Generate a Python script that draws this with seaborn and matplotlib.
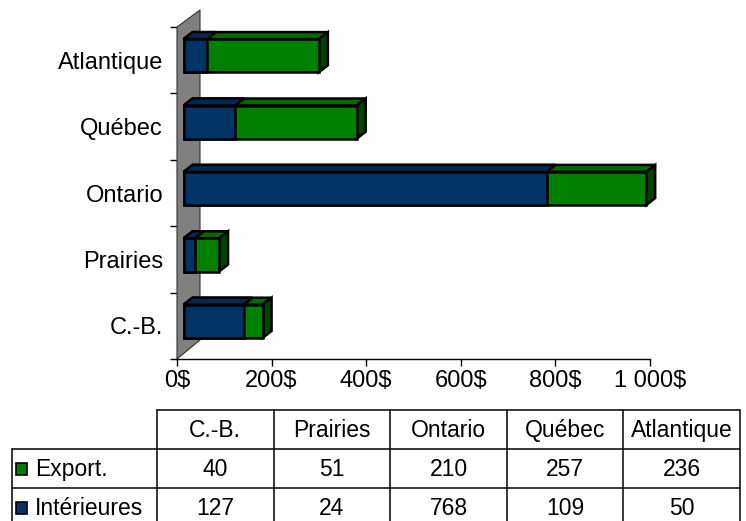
import numpy as np
import pandas as pd
import matplotlib
matplotlib.use("Agg")
import matplotlib.pyplot as plt
import seaborn as sns
from matplotlib.patches import Polygon, Rectangle
from matplotlib.lines import Line2D

# ---------------- data ----------------
regions = ["C.-B.", "Prairies", "Ontario", "Québec", "Atlantique"]
export_vals = [40, 51, 210, 257, 236]
interieures_vals = [127, 24, 768, 109, 50]
series_names = ["Export.", "Intérieures"]
xtick_values = [0, 200, 400, 600, 800, 1000]
xtick_labels = ["0$", "200$", "400$", "600$", "800$", "1 000$"]

# ---------------- style ----------------
BLUE = "#003366"
BLUE_TOP = "#002a55"
GREEN = "#008000"
GREEN_TOP = "#006a00"
GREEN_SIDE = "#004400"
WALL = "#808080"

sns.set_theme(style="white")
plt.rcParams["font.family"] = ["Liberation Sans", "DejaVu Sans"]
plt.rcParams["text.color"] = "black"
plt.rcParams["xtick.color"] = "black"
plt.rcParams["ytick.color"] = "black"
plt.rcParams["xtick.labelcolor"] = "black"
plt.rcParams["ytick.labelcolor"] = "black"

W, H = 746, 521
fig = plt.figure(figsize=(W / 100, H / 100), dpi=100)
fig.patch.set_facecolor("white")

ax_left, ax_right, ax_top, ax_bot = 177, 650, 27, 359
ax = fig.add_axes([ax_left / W, 1 - ax_bot / H, (ax_right - ax_left) / W, (ax_bot - ax_top) / H])
ax.set_facecolor("none")

df = pd.DataFrame({"region": regions, "export": export_vals, "interieures": interieures_vals})
df["total"] = df["export"] + df["interieures"]
order = regions[::-1]

sns.barplot(data=df, x="total", y="region", order=order, orient="h", color=GREEN,
            saturation=1, width=0.5, edgecolor="black", linewidth=1.8,
            errorbar=None, ax=ax, zorder=3)
n_green = len(ax.patches)
sns.barplot(data=df, x="interieures", y="region", order=order, orient="h", color=BLUE,
            saturation=1, width=0.5, edgecolor="black", linewidth=1.8,
            errorbar=None, ax=ax, zorder=3)

ax.set_xlim(0, 1000)
ax.set_ylim(len(order) - 0.5, -0.5)

# pixel -> data conversion for the 3-D depth effect
ax_w_px = ax_right - ax_left
ax_h_px = ax_bot - ax_top
ux = 1000 / ax_w_px
uy = len(order) / ax_h_px
fx, fy = 6.6 * ux, -4.5 * uy     # front face offset
bx, by = 15.6 * ux, -11.5 * uy   # back face offset

patches = list(ax.patches)
green_patches = patches[:n_green]
blue_patches = patches[n_green:]

for p in patches:
    p.set_x(p.get_x() + fx)
    p.set_y(p.get_y() + fy)
    p.set_joinstyle("miter")
    p.set_clip_on(False)

def top_face(p, color):
    x0 = p.get_x(); x1 = x0 + p.get_width(); yt = p.get_y()
    d = bx - fx; e = by - fy
    return Polygon([(x0, yt), (x1, yt), (x1 + d, yt + e), (x0 + d, yt + e)],
                   closed=True, facecolor=color, edgecolor="black", lw=1.8,
                   zorder=2, clip_on=False, joinstyle="miter")

def side_face(p, color):
    x1 = p.get_x() + p.get_width(); yt = p.get_y(); yb = yt + p.get_height()
    d = bx - fx; e = by - fy
    return Polygon([(x1, yt), (x1, yb), (x1 + d, yb + e), (x1 + d, yt + e)],
                   closed=True, facecolor=color, edgecolor="black", lw=1.8,
                   zorder=2, clip_on=False, joinstyle="miter")

for p in green_patches:
    ax.add_patch(top_face(p, GREEN_TOP))
    ax.add_patch(side_face(p, GREEN_SIDE))
for p in blue_patches:
    ax.add_patch(top_face(p, BLUE_TOP))

# grey back wall
wx = 23 * ux
wall = Polygon([(0, len(order) - 0.5), (0, -0.5), (wx, -0.5 - 17 * uy),
                (wx, len(order) - 0.5 - 19 * uy)], closed=True,
               facecolor=WALL, edgecolor="#333333", lw=0.8, zorder=1, clip_on=False)
ax.add_patch(wall)

# axes styling
for s in ["top", "right", "left"]:
    ax.spines[s].set_visible(False)
ax.spines["bottom"].set_color("black")
ax.spines["bottom"].set_linewidth(1.0)
ax.set_xlabel("")
ax.set_ylabel("")
ax.set_xticks(xtick_values)
ax.set_xticklabels(xtick_labels, fontsize=17, color="black")
ax.tick_params(axis="x", direction="out", length=5, width=1, color="black", pad=3, bottom=True)

ax.set_yticks(np.arange(-0.5, len(order), 1.0))
ax.set_yticklabels([])
ax.set_yticks(np.arange(len(order)), minor=True)
ax.set_yticklabels(order, minor=True, fontsize=17, color="black")
ax.tick_params(axis="y", which="major", direction="out", length=5, width=1, color="black", left=True)
ax.tick_params(axis="y", which="minor", length=0, pad=10, left=True)
ax.grid(False)

# ---------------- data table ----------------
tax = fig.add_axes([0, 0, 1, 1], zorder=-1)
tax.set_xlim(0, W)
tax.set_ylim(H, 0)
tax.axis("off")

col_x0, col_w = 157, 116.6
col_edges = [col_x0 + col_w * k for k in range(len(regions) + 1)]
row_edges = [410, 449, 488, 527]
lab_x0 = 12
lc = "black"
lw = 1.1

tax.add_line(Line2D([col_edges[0], col_edges[-1]], [row_edges[0]] * 2, color=lc, lw=lw))
for r in row_edges[1:]:
    tax.add_line(Line2D([lab_x0, col_edges[-1]], [r, r], color=lc, lw=lw))
tax.add_line(Line2D([lab_x0, lab_x0], [row_edges[1], row_edges[-1]], color=lc, lw=lw))
for cx in col_edges:
    tax.add_line(Line2D([cx, cx], [row_edges[0], row_edges[-1]], color=lc, lw=lw))

centers = [(col_edges[k] + col_edges[k + 1]) / 2 for k in range(len(regions))]
hy = (row_edges[0] + row_edges[1]) / 2
for cx, name in zip(centers, regions):
    tax.text(cx, hy + 1, name, ha="center", va="center", fontsize=16.5, color="black")

rows = [(series_names[0], export_vals, GREEN), (series_names[1], interieures_vals, BLUE)]
for i, (name, vals, col) in enumerate(rows):
    ry = (row_edges[i + 1] + row_edges[i + 2]) / 2
    tax.add_patch(Rectangle((16, ry - 6), 11, 12, facecolor=col, edgecolor="black", lw=1.2))
    tax.text(35, ry + 1, name, ha="left", va="center", fontsize=16.5, color="black")
    for cx, v in zip(centers, vals):
        tax.text(cx, ry + 1, str(v), ha="center", va="center", fontsize=16.5, color="black")

fig.savefig("out.png", dpi=100, facecolor="white")
